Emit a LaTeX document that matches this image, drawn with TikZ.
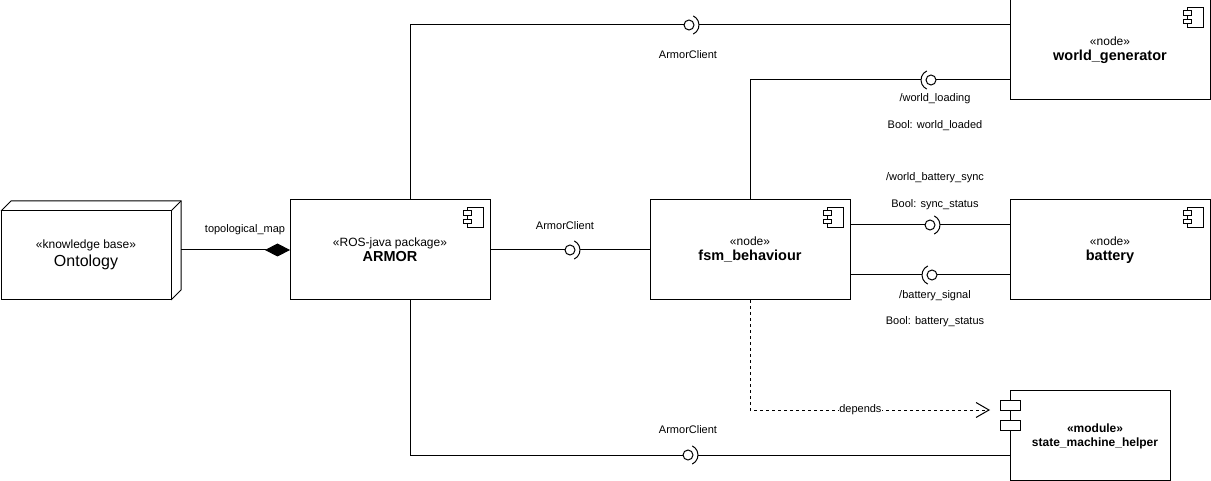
\documentclass[tikz,border=0pt]{standalone}
\usepackage{fontspec}
\setmainfont{Liberation Sans}
\usetikzlibrary{arrows.meta,calc}
\tikzset{
  every node/.style={outer sep=0pt},
  comp/.style={draw, minimum width=200pt, minimum height=100pt, inner sep=0pt, align=center,
    font=\fontsize{12}{15}\selectfont},
  lbl/.style={font=\fontsize{11}{13}\selectfont, inner sep=0pt},
  ball/.style={circle, draw, minimum size=10pt, inner sep=0pt},
  compicon/.pic={
    \draw[line width=0.8pt] (-8pt,-10pt) rectangle (8pt,10pt);
    \draw[line width=0.8pt, fill=white] (-12pt,-6.5pt) rectangle (-4pt,-2pt);
    \draw[line width=0.8pt, fill=white] (-12pt,2pt) rectangle (-4pt,6.5pt);
  },
  dep/.style={dash pattern=on 3pt off 3pt, -{Straight Barb[length=13pt,width=15pt]}},
  comp diamond/.style={-{Diamond[length=25pt,width=13pt]}}
}
\newcommand\lolR[2]{%
  \node[ball] (#1) at (#2) {};
  \draw ($(#1)+(-65:10pt)$) arc[start angle=-65,end angle=65,radius=10pt];
  \coordinate (#1-s) at ($(#1)+(10pt,0)$);}
\newcommand\lolL[2]{%
  \node[ball] (#1) at (#2) {};
  \draw ($(#1)+(115:10pt)$) arc[start angle=115,end angle=245,radius=10pt];
  \coordinate (#1-s) at ($(#1)+(-10pt,0)$);}
\newcommand\nm[1]{{\fontsize{14.5}{15}\selectfont\bfseries #1}}
\begin{document}
\begin{tikzpicture}[x=1pt,y=-1pt,line width=1pt]
\useasboundingbox (0,0) rectangle (1211,481);

% Ontology (3D node)
\node[draw, minimum width=170pt, minimum height=89pt, inner sep=0pt, anchor=north west] (onto) at (1,211) {};
\draw (onto.north west) -- ++(10,-10) -- ++(170,0) -- ++(0,89) -- (onto.south east);
\draw (onto.north east) -- ++(10,-10);
\node[align=center, font=\fontsize{12}{18}\selectfont] (ontotxt) at (86,255) {«knowledge base»\\{\fontsize{16}{18}\selectfont Ontology}};
\coordinate (ontoR) at (181,250);

% components
\node[comp] (armor) at (390,250) {«ROS-java package»\\\nm{ARMOR}};
\node[comp] (fsm) at (750,250) {«node»\\\nm{fsm\_behaviour}};
\node[comp] (battery) at (1110,250) {«node»\\\nm{battery}};
\node[comp] (wg) at (1110,50) {«node»\\\nm{world\_generator}};
\foreach \n in {armor,fsm,battery,wg} {\pic at ($(\n.north east)+(-15,17)$) {compicon};}
\coordinate (armorT) at ($(armor.north)+(20,0)$);
\coordinate (armorB) at ($(armor.south)+(20,0)$);

% module
\node[draw, minimum width=160pt, minimum height=90pt, inner sep=0pt] (smh) at (1090,435) {};
\draw[fill=white] ($(smh.north west)+(-10,10)$) rectangle ++(20,10);
\draw[fill=white] ($(smh.north west)+(-10,30)$) rectangle ++(20,10);
\node[align=center, font=\fontsize{12}{14}\selectfont\bfseries] (smhtxt) at (1095,436) {«module»\\state\_machine\_helper};

% composition
\draw[comp diamond] (ontoR) -- (armor.west);
\node[lbl] (tm) at (245,230) {topological\_map};

% ARMOR - fsm
\lolR{b1}{570,250}
\draw (armor.east) -- (b1);
\draw (b1-s) -- (fsm.west);
\node[lbl] (l1) at (565,226) {ArmorClient};

% ARMOR - world_generator
\lolR{b2}{689,25}
\draw (armorT) |- (b2);
\draw (b2-s) -- (wg.west |- b2);
\node[lbl] (l2) at (688,55) {ArmorClient};

% ARMOR - state_machine_helper
\lolR{b6}{688,455}
\draw (armorB) |- (b6);
\draw (b6-s) -- (smh.west |- b6);
\node[lbl] (l6) at (688,430) {ArmorClient};

% fsm - world_generator
\lolL{b3}{931,80}
\draw (fsm.north) |- (b3-s);
\draw (b3) -- (wg.west |- b3);
\node[lbl] (l3a) at (935,99) {/world\_loading};
\node[lbl] (l3b) at (935,126) {Bool: world\_loaded};

% fsm - battery
\lolR{b4}{930,225}
\draw (fsm.east |- b4) -- (b4);
\draw (b4-s) -- (battery.west |- b4);
\node[lbl] (l4a) at (935,178) {/world\_battery\_sync};
\node[lbl] (l4b) at (935,205) {Bool: sync\_status};

\lolL{b5}{932,275}
\draw (fsm.east |- b5) -- (b5-s);
\draw (b5) -- (battery.west |- b5);
\node[lbl] (l5a) at (935,296) {/battery\_signal};
\node[lbl] (l5b) at (935,322) {Bool: battery\_status};

% dependency
\coordinate (deptip) at (990,410);
\draw[dep] (fsm.south) |- node[pos=0.73, fill=white, inner sep=1pt, lbl] (dl) {depends} (deptip);
\end{tikzpicture}
\end{document}
